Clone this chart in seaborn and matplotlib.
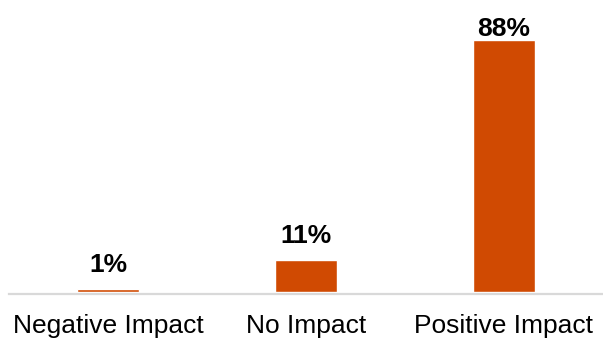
import matplotlib
matplotlib.use("Agg")
import matplotlib.pyplot as plt
import seaborn as sns
import pandas as pd

categories = ["Negative Impact", "No Impact", "Positive Impact"]
shares = [1, 11, 88]
value_labels = ["1%", "11%", "88%"]

sns.set_theme(style="white")
plt.rcParams["font.family"] = ["Liberation Sans", "DejaVu Sans"]

df = pd.DataFrame({"category": categories, "share": shares})

fig = plt.figure(figsize=(6.03, 3.38), dpi=100)
ax = fig.add_axes([9 / 603, 46.5 / 338, 594 / 603, 271 / 338])

sns.barplot(data=df, x="category", y="share", color="#D04A02",
            width=0.31, saturation=1, ax=ax, zorder=3)

ax.set_xlim(-0.5, 2.5)
ax.set_ylim(0, 95)
ax.set_xlabel("")
ax.set_ylabel("")
ax.set_yticks([])
for side in ["top", "right", "left"]:
    ax.spines[side].set_visible(False)
ax.spines["bottom"].set_color("#D9D9D9")
ax.spines["bottom"].set_linewidth(1.6)
ax.spines["bottom"].set_position(("outward", 1.5))
ax.tick_params(axis="x", length=0, pad=14.5, labelsize=19, labelcolor="#000000")

# Value labels sit above each bar, but are kept inside the figure's top margin
fig.canvas.draw()
to_disp = ax.transData
inv = fig.transFigure.inverted()
top_limit_px = fig.bbox.height - 36  # highest allowed label baseline (display px)
for i, (v, lab) in enumerate(zip(shares, value_labels)):
    x_d, y_d = to_disp.transform((i, v))
    y_text = min(y_d + 17, top_limit_px)
    xf, yf = inv.transform((x_d, y_text))
    fig.text(xf, yf, lab, ha="center", va="baseline",
             fontsize=19, fontweight="bold", color="#000000")

fig.savefig("out.png", dpi=100)
